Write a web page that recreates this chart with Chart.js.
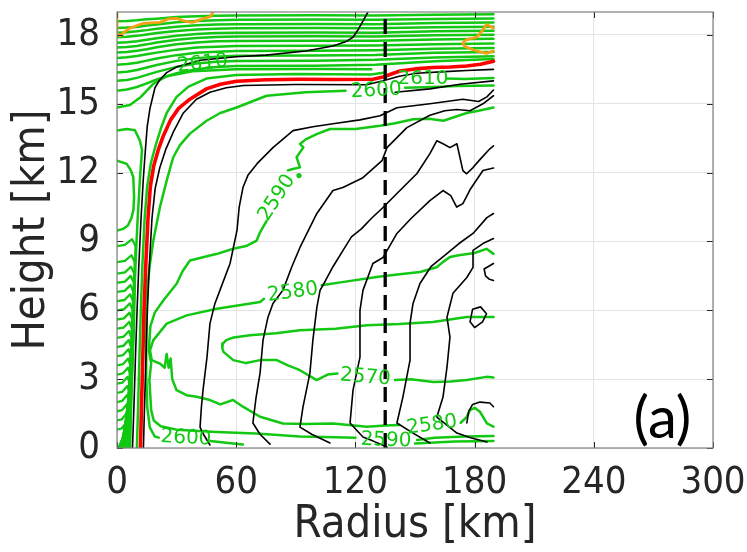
<!DOCTYPE html>
<html><head><meta charset="utf-8">
<script src="https://cdn.jsdelivr.net/npm/chart.js@4.4.1/dist/chart.umd.min.js"></script>
<style>html,body{margin:0;padding:0;background:#fff;}</style>
</head><body>
<canvas id="c" width="747" height="552"></canvas>
<script>
// ---------- axes ----------
const xTicks = [0, 60, 120, 180, 240, 300];
const yTicks = [0, 3, 6, 9, 12, 15, 18];
const xRange = [0, 300];
const yRange = [0, 19];
const xTitle = 'Radius [km]';
const yTitle = 'Height [km]';
const panelTag = ['(a)', 274.5, 1.25];

// ---------- black contours ----------
const blackEye1 = [[7.8,0],[8.6,2],[9.3,4],[10.1,6],[11,8],[12.1,10],[13.3,11.8],[14.3,13.0],[15.2,14.0],[16.6,14.8],[19.1,15.7],[21.6,16.05],[25,16.36],[30,16.6],[41.8,16.9],[60,17.05],[75,17.12],[95,17.3],[108.7,17.52],[115,17.7],[118.8,17.9],[121.5,18.25],[123.8,18.6],[126.3,19.0]];
const blackEye2 = [[13.3,0],[13.9,2],[14.6,4],[15.3,6],[16.3,8],[17.6,10],[19.2,11.3],[21.5,12.2],[24.5,13.0],[28.5,13.8],[33.4,14.6],[40,15.2],[46.8,15.5],[55,15.7],[63.6,15.8],[90,15.84],[125.7,15.83],[134,16.0],[142,16.2],[150.8,16.33],[165,16.4],[176,16.45],[189.5,16.5]];
const blackTop3 = [[140,15.5],[157.5,15.65],[172.6,15.85],[189.5,16.0]];
const blackB1 = [[46.8,0.13],[43.5,0.6],[41.8,0.91],[42.5,1.8],[43.3,2.52],[45.3,3.96],[46.8,5.43],[49.3,6.3],[51.8,6.87],[56.9,8.04],[60.4,9.48],[61.5,10.5],[63.4,11.35],[66,11.9],[70.5,12.39],[78.5,13.09],[88.6,13.83],[98.6,14.0],[108.7,14.13],[122.3,14.3],[132.4,14.48],[140.9,14.83],[157.5,15.0],[174.1,15.2],[182,15.1],[186.2,15.3],[189.5,15.6]];
const blackB2 = [[77.0,0.17],[72,0.6],[68.4,1.09],[70,2.2],[72.0,3.26],[73.5,4.7],[76,5.7],[78.5,6.3],[83.5,6.87],[88,7.9],[92.1,8.74],[100.6,10.22],[108.7,11.22],[113.7,11.35],[123.8,11.78],[133.4,12.52],[135.9,13.09],[145.9,13.96],[157.5,14.5],[165,14.7],[171.1,14.75],[177.7,14.7],[184.2,15.0],[189.5,15.35]];
const blackB3 = [[107.2,0.22],[98,0.6],[92.1,0.91],[93.6,1.78],[97.1,3.26],[98.6,4.7],[100.6,6.13],[102.2,6.87],[105,7.3],[108.7,7.9],[113.7,8.6],[118,9.2],[123,9.55],[128,10.0],[133.9,10.48],[140.9,11.09],[151,11.96],[157.5,12.83],[161,13.39],[164.1,13.26],[167.6,13.09],[171.1,13.26],[174.1,12.09],[176,11.95],[179.2,12.22],[183,12.6],[187.7,13.04],[189.5,13.17]];
const blackB4 = [[135.9,0.04],[129,0.3],[123.8,0.48],[117.3,1.09],[118.8,2.52],[122.3,3.96],[122.3,6.0],[123.8,6.87],[128.8,8.04],[133.9,8.3],[140.9,9.35],[148,10.0],[157.5,10.78],[164.1,11.22],[168,11.0],[171,10.5],[174.1,10.65],[178,11.3],[184.2,12.09],[189.5,12.2]];
const blackB5 = [[157.5,0.22],[149,0.65],[140.9,1.09],[143.9,2.22],[147.5,3.83],[147.5,5.43],[149,6.3],[152.5,7.17],[158,7.9],[165.1,8.4],[172,8.9],[179.2,9.35],[186.2,10.04],[189.5,10.22]];
const blackB6 = [[186.2,0.26],[178,0.45],[171.1,0.65],[161,1.35],[164.1,2.22],[166.1,3.52],[167.6,4.83],[166.1,5.7],[169.1,6.74],[176.1,7.43],[179.2,7.87],[179.2,8.61],[184.2,8.91],[189.5,9.13]];
const blackLoop = [[177.7,5.5],[180,5.25],[184,5.5],[186,5.85],[183,6.15],[179,6.05],[177.7,5.5]];
const blackEdge = [[189.5,8.04],[184.8,7.8],[185.5,7.5],[187.5,7.35],[189.5,7.3]];
const blackLow = [[176.1,1.09],[177,1.6],[179,1.9],[182.7,2.0],[187.7,1.96],[189.5,1.8]];

// ---------- red contour ----------
const redLine = [[11.8,0],[12.4,2],[13.0,4],[13.6,6],[14.5,8],[15.6,10],[16.8,11.4],[18.5,12.3],[20.8,13.0],[23.3,13.6],[27,14.3],[31,14.8],[36.7,15.2],[45,15.65],[52,15.85],[60.2,15.98],[75,16.05],[92,16.07],[110,16.06],[128.8,16.07],[133.9,16.17],[142.4,16.43],[150,16.52],[159,16.58],[168,16.6],[176,16.65],[183,16.72],[189.5,16.85]];

// ---------- orange contours ----------
const orange1 = [[0,19],[0,18.05],[1.5,17.95],[4,18.15],[6.5,18.3],[13,18.5],[21.6,18.55],[26,18.7],[30,18.72],[34,18.6],[38,18.55],[43,18.7],[47,18.8],[48.3,19.0]];
const orange2 = [[189.5,18.3],[186,18.45],[184,18.2],[181,17.9],[176,17.8],[174,17.65],[175,17.5],[178,17.4],[181,17.3],[186,17.2],[189.5,17.3]];

// ---------- green contours ----------
const g2570a = [[189.5,5.71],[176.1,5.71],[159,5.49],[142,5.4],[125.8,5.35],[110,5.2],[92.1,5.13],[80,5.0],[66.9,4.91],[58,4.8],[55,4.7],[53.3,4.55],[53,4.35],[53.6,4.19],[58.5,3.83],[65,3.7],[72,3.83],[80.4,3.83],[86,3.6],[92.1,3.39],[100.5,2.96],[106,3.2],[111,3.25]];
const g2570b = [[140,2.96],[148,3.0],[159.2,2.88],[168,2.9],[176,2.96],[186,3.1],[189.5,3.07]];
const g2580a = [[189.5,8.46],[186,8.68],[180,8.5],[172,8.4],[167.6,8.32],[164,8.1],[160.9,7.88],[152.5,7.67],[140,7.55],[130.7,7.45],[115,7.25],[103,7.09]];
const g2580b = [[74,6.5],[72,6.36],[60,6.2],[50.2,6.07],[35.1,5.78],[25,5.42],[18.3,4.7],[16.6,4.26],[17.5,3.83],[21.6,3.68],[24,3.5],[25,4.1],[26,3.5],[27,3.9],[27.8,3.0],[30,2.52],[35,2.3],[40.1,2.23],[46.8,2.09],[52,1.9],[58.4,2.09],[63.4,1.8],[72,1.36],[83.5,1.07],[95,1.05],[108.7,1.07],[125.8,0.93],[135,0.98],[142,1.0]];
const g2580c = [[173,1.1],[176.1,1.36],[177.7,1.65],[180,1.75],[182.7,1.58],[186.2,1.07],[189.5,0.93]];
const g2590a = [[189.5,14.84],[182,14.7],[176,14.6],[164.3,14.26],[157,14.35],[149.1,14.33],[140,14.15],[132.4,14.04],[120,13.9],[107.2,13.9],[100.5,13.68],[95,13.45],[92.1,13.25],[93.8,13.1],[90.4,12.67],[92.1,12.23],[88,12.15],[86,12.1]];
const g2590b = [[75.3,9.9],[72,9.4],[70.3,9.04],[65,8.8],[58.5,8.68],[50,8.45],[46.8,8.39],[36.7,8.17],[33,7.7],[30,7.16],[23.3,6.43],[19,5.9],[16.8,5.3],[16,4.26],[17.2,3.7],[16.3,2.96],[17.2,1.65],[18.5,1.2],[22,0.95],[30,0.8],[50,0.7],[70,0.63],[92,0.5],[110,0.47],[120,0.45]];
const g2590c = [[151,0.35],[160,0.45],[175,0.5],[189.5,0.52]];
const g2600a = [[47,0.3],[56,0.22],[63.4,0.15]];
const g2600b = [[21,0.45],[19,0.5],[16.5,0.9],[15.2,1.8],[14.8,3],[14.6,4.5],[14.8,6],[15.5,7.2],[16.6,8.03],[18.3,9.04],[21.6,10.49],[25,11.65],[28.3,12.67],[31.7,13.2],[36.7,13.7],[45.1,14.26],[52,14.6],[60.2,14.84],[75.3,15.35],[95,15.5],[115,15.57]];
const g2600c = [[145,15.7],[155,15.72],[165,15.75],[171,15.78],[189.5,15.8]];
const g2600d = [[150,0.2],[170,0.28],[189.5,0.3]];
const g2610a = [[10,0],[10.7,2],[11.3,4],[12,6],[12.8,8],[13.9,10],[15.2,11.4],[17,12.4],[19.5,13.2],[22,13.9],[25,14.6],[30,15.3],[36,15.75],[45,16.1],[60,16.25],[90,16.3],[128,16.28],[134,16.35]];
const g2610b = [[166,16.1],[175,16.08],[189.5,16.12]];
const gWrap1 = [[0,14.84],[6.5,14.95],[12,15.3],[18,15.85],[25,16.2],[38,16.42],[60,16.5],[100,16.52],[128,16.5]];
const gWrap2 = [[0,13.83],[5,13.9],[9,13.85],[11.5,13.4],[12.6,13.0],[11.6,11.8],[10.4,10],[9.3,8],[8.4,6],[7.5,4],[6.5,2],[5.5,0]];
const gLoop = [[0,12.52],[4.9,12.38],[7,12.1],[8.2,11.8],[8.6,10.93],[8.3,10.4],[7.4,10.06],[5.5,9.7],[3.2,9.55],[0,9.48]];
const gDot = [[91.6,11.87]];

// upper fan of contours: shared radii, one height list per contour
const fanX = [0, 5, 10, 15, 20, 30, 40, 50, 60, 100, 130, 160, 189.5];
const fanLevels = [
  [18.6,18.61,18.64,18.68,18.71,18.78,18.82,18.84,18.85,18.86,18.85,18.88,18.9],
  [18.3,18.32,18.35,18.41,18.46,18.55,18.61,18.64,18.66,18.67,18.66,18.7,18.72],
  [18.1,18.12,18.16,18.21,18.27,18.36,18.42,18.45,18.47,18.48,18.47,18.52,18.54],
  [17.9,17.92,17.96,18.02,18.08,18.17,18.24,18.27,18.29,18.3,18.29,18.34,18.36],
  [17.66,17.68,17.73,17.79,17.86,17.97,18.04,18.08,18.1,18.11,18.1,18.16,18.18],
  [17.45,17.47,17.52,17.59,17.67,17.79,17.87,17.91,17.93,17.94,17.93,17.99,18.01],
  [17.23,17.26,17.31,17.38,17.46,17.59,17.67,17.72,17.74,17.75,17.75,17.8,17.83],
  [17.0,17.03,17.08,17.16,17.23,17.36,17.45,17.49,17.52,17.53,17.54,17.6,17.63],
  [16.7,16.73,16.79,16.88,16.97,17.12,17.22,17.27,17.3,17.31,17.33,17.4,17.43],
  [16.36,16.4,16.47,16.58,16.69,16.87,16.99,17.05,17.09,17.1,17.13,17.22,17.26],
  [16.0,16.04,16.13,16.26,16.39,16.61,16.76,16.83,16.87,16.88,16.92,17.02,17.07],
  [15.57,15.62,15.73,15.89,16.06,16.33,16.51,16.6,16.65,16.66,16.7,16.85,16.95]
];

// dense hairpin contours inside the eye
const eyeHairpins = [
  [[0,8.8],[4,8.85],[7.6,9.1],[9.3,8.8],[8.6,5.5],[7.3,2.2],[6.6,0]],
  [[0,8.1],[4,8.15],[7.3,8.4],[8.9,8.1],[8.2,5],[7,2],[6.2,0]],
  [[0,7.6],[4,7.65],[7,7.9],[8.7,7.6],[8,4.8],[6.7,1.8],[5.8,0]],
  [[0,7.2],[4,7.25],[6.9,7.5],[8.5,7.2],[7.8,4.5],[6.4,1.6],[5.4,0]],
  [[0,6.8],[3.8,6.85],[6.8,7.1],[8.3,6.8],[7.5,4.2],[6.1,1.5],[5,0]],
  [[0,6.4],[3.8,6.45],[6.6,6.7],[8.1,6.4],[7.3,4],[5.8,1.4],[4.6,0]],
  [[0,6.0],[3.6,6.05],[6.5,6.3],[7.9,6.0],[7.1,3.8],[5.5,1.3],[4.2,0]],
  [[0,5.6],[3.5,5.65],[6.3,5.9],[7.7,5.6],[6.9,3.5],[5.2,1.2],[3.8,0]],
  [[0,5.2],[3.4,5.25],[6.2,5.5],[7.5,5.2],[6.7,3.2],[4.9,1.1],[3.4,0]],
  [[0,4.8],[3.3,4.85],[6,5.1],[7.3,4.8],[6.5,3],[4.6,1],[3,0]],
  [[0,4.4],[3.2,4.45],[5.9,4.7],[7.1,4.4],[6.3,2.7],[4.3,0.9],[2.6,0]],
  [[0,4.0],[3.1,4.05],[5.8,4.3],[7,4.0],[6.1,2.4],[4,0.8],[2.2,0]],
  [[0,3.6],[3,3.65],[5.6,3.9],[6.8,3.6],[5.9,2.2],[3.7,0.7],[1.8,0]],
  [[0,3.2],[2.9,3.25],[5.5,3.5],[6.7,3.2],[5.7,2],[3.4,0.6],[1.4,0]],
  [[0,2.8],[2.8,2.85],[5.3,3.1],[6.5,2.8],[5.5,1.7],[3.1,0.5],[1,0]],
  [[0,2.4],[2.7,2.45],[5.2,2.7],[6.4,2.4],[5.3,1.5],[2.8,0.4],[0.6,0]],
  [[0,2.0],[2.6,2.05],[5,2.3],[6.3,2.0],[5.1,1.2]],
  [[0,1.6],[2.5,1.65],[4.9,1.9],[6.2,1.6],[5,0.9]],
  [[0,1.2],[2.4,1.25],[4.8,1.5],[6.1,1.2],[4.9,0.6]],
  [[0,0.8],[2.3,0.85],[4.7,1.1],[6,0.8],[4.8,0.3]]
];

// vertical reference line (radius, km)
const refRadius = 135;

// contour labels
const labelText  = ['2600','2590','2580','2570','2580','2590','2600','2610','2610'];
const labelX     = [34.7, 135.4, 158.5, 125, 88.5, 80.5, 130.5, 154, 43];
const labelY     = [0.43, 0.33, 1.0, 3.08, 6.78, 10.9, 15.57, 16.08, 16.75];
const labelAngle = [3, 2, -8, 5, -8, -57, -3, 0, -6];

// ---------- styling ----------
const GREEN = 'rgb(18,200,18)';
const BLACK = '#000000';
const RED = '#ff0000';
const ORANGE = 'rgb(242,160,20)';
const TXT = '#262626';
const TICKFONT = '"DejaVu Sans Condensed", "DejaVu Sans", sans-serif';

function ds(arr, color, width, order, dash) {
  return {
    data: arr.map(p => ({x: p[0], y: p[1]})),
    showLine: true, borderColor: color, backgroundColor: color,
    borderWidth: width, pointRadius: 0, pointHoverRadius: 0, fill: false,
    tension: 0, order: order, borderDash: dash || [],
    borderCapStyle: dash ? 'butt' : 'round', borderJoinStyle: 'round'
  };
}

const datasets = [];
datasets.push(ds([[refRadius, yRange[0]], [refRadius, yRange[1]]], BLACK, 3.3, 0, [15, 8]));
datasets.push(ds(redLine, RED, 3.6, 1));
[blackEye1, blackEye2, blackTop3, blackB1, blackB2, blackB3, blackB4, blackB5, blackB6, blackLoop, blackEdge, blackLow]
  .forEach(a => datasets.push(ds(a, BLACK, 1.6, 2)));
[orange1, orange2].forEach(a => datasets.push(ds(a, ORANGE, 2.8, 3)));
[g2570a, g2570b, g2580a, g2580b, g2580c, g2590a, g2590b, g2590c, g2600a, g2600b, g2600c, g2600d, g2610a, g2610b, gWrap1, gWrap2, gLoop]
  .forEach(a => datasets.push(ds(a, GREEN, 2.5, 4)));
fanLevels.forEach(ys => datasets.push(ds(fanX.map((x, i) => [x, ys[i]]), GREEN, 2.5, 4)));
eyeHairpins.forEach(a => datasets.push(ds(a, GREEN, 2.3, 4)));
datasets.push({data: gDot.map(p => ({x: p[0], y: p[1]})), showLine: false, pointRadius: 2.6,
  pointBackgroundColor: GREEN, pointBorderWidth: 0, order: 4});

const decor = {
  id: 'decor',
  afterDatasetsDraw(chart) {
    const ctx = chart.ctx, xs = chart.scales.x, ys = chart.scales.y;
    ctx.save();
    ctx.fillStyle = GREEN;
    ctx.font = '20px "DejaVu Sans", sans-serif';
    ctx.textAlign = 'center'; ctx.textBaseline = 'middle';
    for (let i = 0; i < labelText.length; i++) {
      ctx.save();
      ctx.translate(xs.getPixelForValue(labelX[i]), ys.getPixelForValue(labelY[i]));
      ctx.rotate(labelAngle[i] * Math.PI / 180);
      ctx.fillText(labelText[i], 0, 0);
      ctx.restore();
    }
    ctx.restore();
  },
  afterDraw(chart) {
    const ctx = chart.ctx, a = chart.chartArea, xs = chart.scales.x, ys = chart.scales.y;
    ctx.save();
    ctx.strokeStyle = TXT; ctx.lineWidth = 1;
    const tl = 6;
    xTicks.forEach(v => {
      const p = Math.round(xs.getPixelForValue(v)) + 0.5;
      ctx.beginPath(); ctx.moveTo(p, a.bottom); ctx.lineTo(p, a.bottom - tl);
      ctx.moveTo(p, a.top); ctx.lineTo(p, a.top + tl); ctx.stroke();
    });
    yTicks.forEach(v => {
      const p = Math.round(ys.getPixelForValue(v)) + 0.5;
      ctx.beginPath(); ctx.moveTo(a.left, p); ctx.lineTo(a.left + tl, p);
      ctx.moveTo(a.right, p); ctx.lineTo(a.right - tl, p); ctx.stroke();
    });
    ctx.strokeStyle = '#808080'; ctx.lineWidth = 1.2;
    ctx.strokeRect(a.left, a.top, a.right - a.left, a.bottom - a.top);
    ctx.fillStyle = '#000';
    ctx.font = '58px Lato, "Open Sans", sans-serif';
    ctx.textAlign = 'center'; ctx.textBaseline = 'middle';
    ctx.fillText(panelTag[0], xs.getPixelForValue(panelTag[1]), ys.getPixelForValue(panelTag[2]));
    ctx.restore();
  }
};

new Chart(document.getElementById('c'), {
  type: 'scatter',
  data: {datasets},
  options: {
    responsive: false, animation: false, devicePixelRatio: 1,
    layout: {padding: {top: 12, right: 34, left: 5, bottom: 0}},
    plugins: {legend: {display: false}, tooltip: {enabled: false}},
    scales: {
      x: {
        type: 'linear', min: xRange[0], max: xRange[1],
        afterBuildTicks: s => { s.ticks = xTicks.map(v => ({value: v})); },
        afterFit: s => { s.height = 104; s.paddingLeft = 0; s.paddingRight = 0; },
        grid: {color: '#e3e3e3', lineWidth: 1, drawTicks: false},
        border: {display: false},
        ticks: {font: {family: TICKFONT, size: 38}, color: TXT, padding: 12, maxRotation: 0},
        title: {display: true, text: xTitle, font: {family: TICKFONT, size: 45}, color: TXT, padding: {top: 0, bottom: 0}}
      },
      y: {
        type: 'linear', min: yRange[0], max: yRange[1],
        afterBuildTicks: s => { s.ticks = yTicks.map(v => ({value: v})); },
        afterFit: s => { s.width = 112; s.paddingTop = 0; s.paddingBottom = 0; },
        grid: {color: '#e3e3e3', lineWidth: 1, drawTicks: false},
        border: {display: false},
        ticks: {font: {family: TICKFONT, size: 38}, color: TXT, padding: 17},
        title: {display: true, text: yTitle, font: {family: TICKFONT, size: 45}, color: TXT, padding: {top: 0, bottom: 0}}
      }
    }
  },
  plugins: [decor]
});
</script>
</body></html>
